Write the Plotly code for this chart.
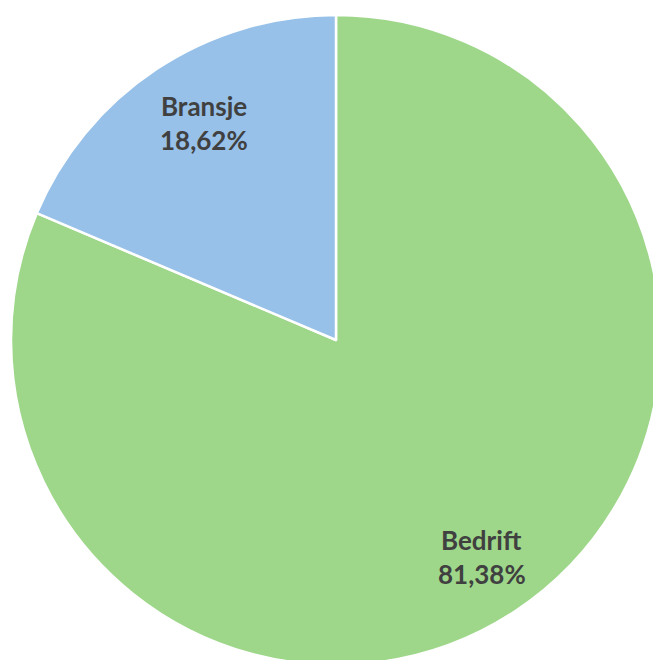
import math
import plotly.graph_objects as go

# Share of responses by category (drawn clockwise from 12 o'clock)
labels = ["Bedrift", "Bransje"]
values = [81.38, 18.62]
colors = ["#9ED78A", "#97C1E8"]

W, H = 672, 680          # canvas size in px
CX, CY, R = 336, 340, 325  # pie centre and radius in px

fig = go.Figure(
    go.Pie(
        labels=labels,
        values=values,
        sort=False,
        direction="clockwise",
        rotation=0,
        marker=dict(colors=colors, line=dict(color="white", width=2.5)),
        textinfo="none",
        hoverinfo="label+percent",
        showlegend=False,
        domain=dict(x=[(CX - R) / W, (CX + R) / W],
                    y=[1 - (CY + R) / H, 1 - (CY - R) / H]),
    )
)

# Data labels placed along each slice's mid-angle
total = sum(values)
nudge_x = [2, 12]
annotations = []
cum = 0.0
for lab, val, nx in zip(labels, values, nudge_x):
    mid = (cum + val / 2) / total
    cum += val
    theta = 2 * math.pi * mid
    r = 0.8 * R
    px = CX + r * math.sin(theta) + nx
    py = CY - r * math.cos(theta)
    pct = f"{val:.2f}".replace(".", ",") + "%"
    for txt, dy in ((lab, -17), (pct, 17)):
        annotations.append(dict(
            x=px / W, y=1 - (py + dy) / H, xref="paper", yref="paper",
            text=f"<b>{txt}</b>", showarrow=False,
            font=dict(family="Lato", size=26, color="#404040"),
            xanchor="center", yanchor="middle",
        ))

fig.update_layout(
    width=W, height=H,
    margin=dict(l=0, r=0, t=0, b=0),
    paper_bgcolor="white",
    plot_bgcolor="white",
    annotations=annotations,
)

fig.write_html("out.html")
